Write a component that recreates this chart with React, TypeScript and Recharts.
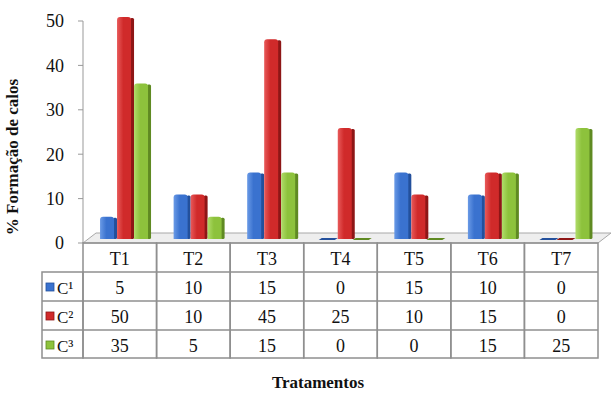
import { BarChart, Bar, XAxis, YAxis, Customized } from "recharts"

const categories = ["T1", "T2", "T3", "T4", "T5", "T6", "T7"]
const c1 = [5, 10, 15, 0, 15, 10, 0]
const c2 = [50, 10, 45, 25, 10, 15, 0]
const c3 = [35, 5, 15, 0, 0, 15, 25]
const seriesNames = ["C¹", "C²", "C³"]
const yTicks = [0, 10, 20, 30, 40, 50]

const seriesValues = [c1, c2, c3]
const data = categories.map((cat, i) => ({ cat, c1: c1[i], c2: c2[i], c3: c3[i] }))

const serif = "'Liberation Serif', 'DejaVu Serif', serif"
const txt = { fontFamily: serif }
const colors = [
  { base: "#3a72cf", light: "#6a9ae6", dark: "#23509c" },
  { base: "#d02a2a", light: "#e85a5a", dark: "#8e1616" },
  { base: "#8dc23c", light: "#b0dc6a", dark: "#5f8a22" },
]

// layout
const W = 612
const H = 394
const PLOT_L = 83
const PLOT_R = 598
const PLOT_T = 21
const PLOT_B = 243
const COL_W = (PLOT_R - PLOT_L) / categories.length
const ROW_Y = [243, 272, 301, 330, 358]
const LEG_L = 42
const DX = 6
const DY = -4
const lineColor = "#8f8f8f"

const makeShape = (k: number) => (props: any) => {
  const { x, y, width, height } = props
  const c = colors[k]
  const bx = x + DX
  const by = y + DY
  if (!height || height < 1) {
    return (
      <polygon
        points={`${bx - 2},${by + 1} ${bx + width - 3},${by + 1} ${bx + width},${by - 1} ${bx + 1},${by - 1}`}
        fill={c.dark}
      />
    )
  }
  const side = 3
  const r = 3
  const fw = width - side
  const path = `M${bx},${by + height} L${bx},${by + r} Q${bx},${by} ${bx + r},${by} L${bx + fw - r},${by} Q${bx + fw},${by} ${bx + fw},${by + r} L${bx + fw},${by + height} Z`
  return (
    <g>
      <rect x={bx + fw - 1} y={by + 1} width={side + 1} height={height - 1} rx={1.5} fill={c.dark} />
      <path d={path} fill={`url(#grad${k})`} />
    </g>
  )
}

const TableTick = (props: any) => {
  const { x, payload } = props
  const i = categories.indexOf(payload.value)
  const left = x - COL_W / 2
  return (
    <g>
      <rect x={left} y={ROW_Y[0]} width={COL_W} height={ROW_Y[4] - ROW_Y[0]} fill="none" stroke={lineColor} strokeWidth={1.5} />
      {ROW_Y.slice(1, 4).map((ry) => (
        <line key={ry} x1={left} x2={left + COL_W} y1={ry} y2={ry} stroke={lineColor} strokeWidth={1.5} />
      ))}
      <text x={x} y={ROW_Y[0] + 22} textAnchor="middle" fontSize={18} style={txt} fill="#111">
        {payload.value}
      </text>
      {seriesValues.map((vals, k) => (
        <text key={k} x={x} y={ROW_Y[k + 1] + 22} textAnchor="middle" fontSize={18} style={txt} fill="#111">
          {vals[i]}
        </text>
      ))}
    </g>
  )
}

const Extras = () => (
  <g>
    <defs>
      {colors.map((c, k) => (
        <linearGradient key={k} id={`grad${k}`} x1="0" y1="0" x2="1" y2="0">
          <stop offset="0%" stopColor={c.light} />
          <stop offset="45%" stopColor={c.base} />
          <stop offset="100%" stopColor={c.base} />
        </linearGradient>
      ))}
    </defs>
    {/* floor */}
    <polygon
      points={`${PLOT_L},${PLOT_B} ${PLOT_R},${PLOT_B} ${PLOT_R + 13},${PLOT_B - 10} ${PLOT_L + 13},${PLOT_B - 10}`}
      fill="#eeeeee"
      stroke="#a8a8a8"
      strokeWidth={1}
    />
    {/* legend column of the table */}
    <rect x={LEG_L} y={ROW_Y[1]} width={PLOT_L - LEG_L} height={ROW_Y[4] - ROW_Y[1]} fill="none" stroke={lineColor} strokeWidth={1.5} />
    {seriesNames.map((name, k) => (
      <g key={name}>
        {k > 0 && <line x1={LEG_L} x2={PLOT_L} y1={ROW_Y[k + 1]} y2={ROW_Y[k + 1]} stroke={lineColor} strokeWidth={1.5} />}
        <rect x={46} y={ROW_Y[k + 1] + 11} width={8} height={8} fill={colors[k].base} stroke={colors[k].dark} strokeWidth={0.8} />
        <text x={57} y={ROW_Y[k + 1] + 22} fontSize={17} style={txt} fill="#111">
          {name}
        </text>
      </g>
    ))}
    <text
      x={18}
      y={157}
      transform="rotate(-90 18 157)"
      textAnchor="middle"
      fontSize={17}
      fontWeight="bold"
      style={txt}
      fill="#111"
    >
      % Formação de calos
    </text>
    <text x={318} y={388} textAnchor="middle" fontSize={17} fontWeight="bold" style={txt} fill="#111">
      Tratamentos
    </text>
  </g>
)

export default function App() {
  return (
    <div style={{ position: "absolute", left: 0, top: 0, width: W, height: H, background: "#fff", fontFamily: serif }}>
      <BarChart
        width={W}
        height={H}
        data={data}
        margin={{ top: PLOT_T, right: W - PLOT_R, bottom: H - PLOT_B - 115, left: PLOT_L - 40 }}
        barCategoryGap="15%"
        barGap={0}
        style={txt}
      >
        <Customized component={<Extras />} />
        <XAxis dataKey="cat" height={115} axisLine={false} tickLine={false} interval={0} tick={<TableTick />} />
        <YAxis
          domain={[0, 50]}
          ticks={yTicks}
          width={40}
          axisLine={{ stroke: "#999" }}
          tickLine={{ stroke: "#999" }}
          tickSize={5}
          tickMargin={14}
          tick={{ fill: "#111", fontSize: 18, style: txt }}
        />
        <Bar dataKey="c1" name={seriesNames[0]} fill={colors[0].base} shape={makeShape(0)} isAnimationActive={false} />
        <Bar dataKey="c2" name={seriesNames[1]} fill={colors[1].base} shape={makeShape(1)} isAnimationActive={false} />
        <Bar dataKey="c3" name={seriesNames[2]} fill={colors[2].base} shape={makeShape(2)} isAnimationActive={false} />
      </BarChart>
    </div>
  )
}
